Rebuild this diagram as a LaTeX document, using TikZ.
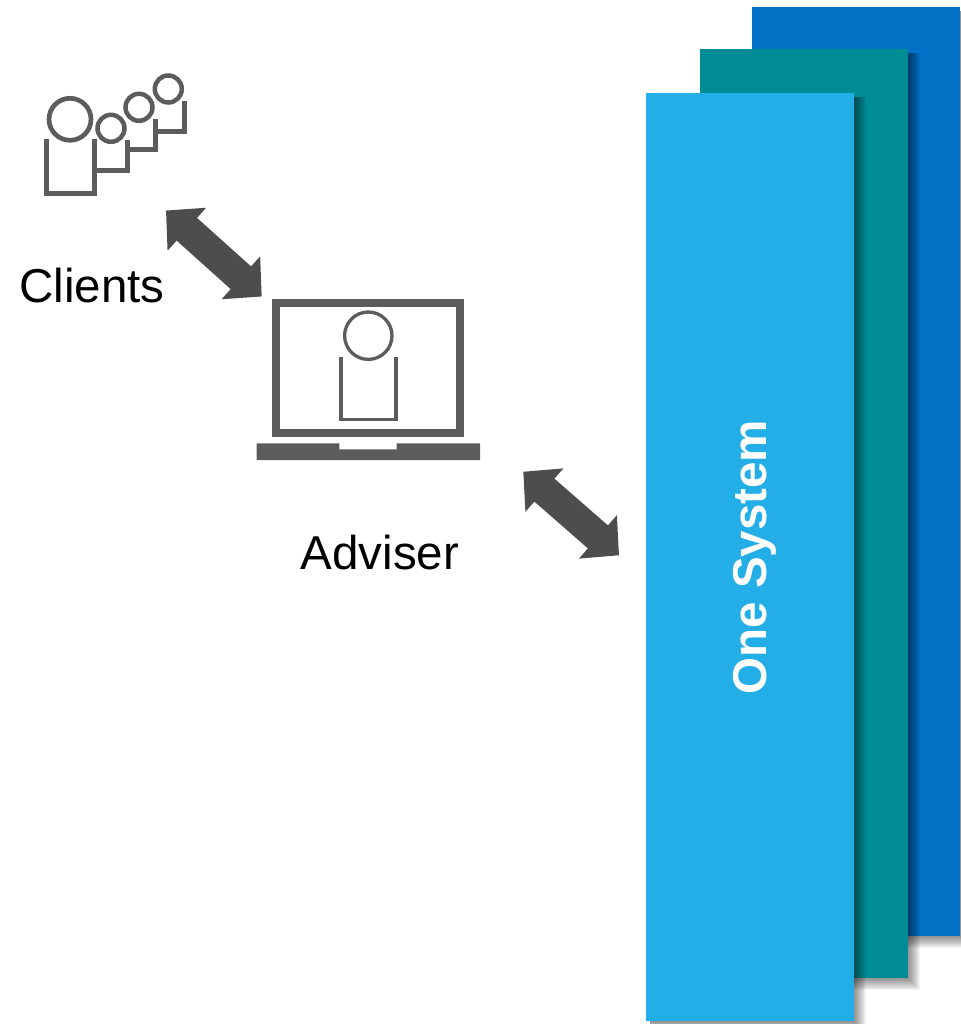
\documentclass[tikz,border=0pt]{standalone}
\usepackage{fontspec}
\setmainfont{Liberation Sans}
\usetikzlibrary{arrows.meta}
\definecolor{sysblue}{RGB}{0, 113, 197}
\definecolor{systeal}{RGB}{0, 140, 149}
\definecolor{syslight}{RGB}{36, 174, 232}
\definecolor{icon}{RGB}{92, 92, 92}
\definecolor{arr}{RGB}{77, 77, 77}
\tikzset{
  sysbox/.style={minimum width=208pt, minimum height=929pt, inner sep=0pt},
  label/.style={font=\fontsize{47.5}{47.5}\selectfont, inner sep=0pt, text=black},
  bigarrow/.style={color=arr, line width=30.5pt, {Triangle[length=28pt,width=56pt]}-{Triangle[length=28pt,width=56pt]}},
}
% shadow goes under the box: left, top, right, bottom
\newcommand{\boxshadow}[4]{
  \foreach \s in {0,...,12}
    \fill[black, opacity=0.045] (#1+4, #2+4) rectangle (#3+\s, #4+\s);
}
\begin{document}
\begin{tikzpicture}[x=1pt, y=-1pt]
      \useasboundingbox (0, 0) rectangle (960, 1024);
      % stacked boxes
      \boxshadow{752}{7}{960}{936}
      \node[sysbox, fill=sysblue] (blue) at (856, 471.5) {};
      \boxshadow{700}{49}{908}{978}
      \node[sysbox, fill=systeal] (teal) at (804, 513.5) {};
      \boxshadow{646}{93}{854}{1021}
      \node[sysbox, minimum height=928pt, fill=syslight] (light) at (750, 557) {};
      \node[label, rotate=90, text=white, font=\fontsize{47.5}{47.5}\selectfont\bfseries] (system) at (755, 557) {One System};
      % clients
      \draw[color=icon, line width=4.7] (70, 119.3) circle (21);
      \draw[color=icon, line width=5] (46, 138.7)--(46, 193.5)--(94, 193.5)--(94, 138.7);
      \draw[color=icon, line width=4.5] (111, 128.3) circle (13.5);
      \draw[color=icon, line width=4.5] (139, 107.3) circle (13.5);
      \draw[color=icon, line width=4.5] (168.3, 89) circle (13.5);
      \draw[color=icon, line width=5] (96, 170.7)--(127.3, 170.7)--(127.3, 140);
      \draw[color=icon, line width=5] (129, 150)--(155, 150)--(155, 119);
      \draw[color=icon, line width=5] (157, 131.7)--(184, 131.7)--(184, 101);
      \node[label] (clients) at (92, 286) {Clients};
      % adviser
      \draw[color=icon, line width=8] (276.3, 303) rectangle (460, 432.7);
      \draw[color=icon, line width=3.3] (368.3, 335.7) circle (23.7);
      \draw[color=icon, line width=3.3] (341, 357.3)--(341, 419.3)--(396, 419.3)--(396, 357.3);
      \fill[color=icon] (256.7, 443.3)--(339.3, 443.3)--(339.3, 449.3)--(396.7, 449.3)--(396.7, 443.3)--(480, 443.3)--(480, 460)--(256.7, 460)--cycle;
      \node[label] (adviser) at (380, 553) {Adviser};
      % arrows
      \coordinate (a) at (166, 210.5);
      \coordinate (b) at (261.7, 296.5);
      \coordinate (c) at (523.3, 471.7);
      \coordinate (d) at (619, 555.3);
      \draw[bigarrow] (a)--(b);
      \draw[bigarrow] (c)--(d);
\end{tikzpicture}
\end{document}
